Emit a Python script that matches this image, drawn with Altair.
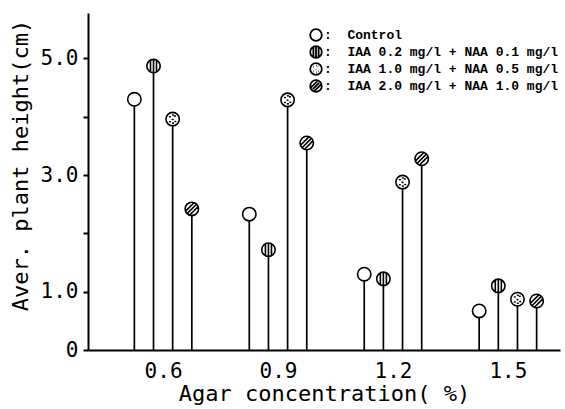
import altair as alt
import pandas as pd

concentrations = [0.6, 0.9, 1.2, 1.5]
series = [
    "Control",
    "IAA 0.2 mg/l + NAA 0.1 mg/l",
    "IAA 1.0 mg/l + NAA 0.5 mg/l",
    "IAA 2.0 mg/l + NAA 1.0 mg/l",
]
control = [4.30, 2.33, 1.30, 0.67]
iaa02 = [4.87, 1.72, 1.22, 1.10]
iaa10 = [3.96, 4.29, 2.88, 0.87]
iaa20 = [2.42, 3.55, 3.28, 0.84]
y_ticks = [0, 1, 2, 3, 4, 5]

values_by_series = [control, iaa02, iaa10, iaa20]
rows = []
for si, (name, vals) in enumerate(zip(series, values_by_series)):
    for c, v in zip(concentrations, vals):
        rows.append({"conc": c, "series": name, "idx": si, "value": v})
df = pd.DataFrame(rows)

circle = "M-1,0A1,1,0,1,0,1,0A1,1,0,1,0,-1,0Z"
shapes = [
    circle,
    circle + "M-0.45,-0.85L-0.45,0.85M0,-1L0,1M0.45,-0.85L0.45,0.85",
    circle + "M-0.45,-0.35L-0.35,-0.35M0.3,-0.45L0.4,-0.45M-0.05,0.05L0.05,0.05"
    "M-0.45,0.4L-0.35,0.4M0.35,0.35L0.45,0.35M0,-0.6L0.1,-0.6M0,0.6L0.1,0.6",
    circle + "M-0.85,0.25L0.25,-0.85M-0.55,0.55L0.55,-0.55M-0.25,0.85L0.85,-0.25",
]

FONT = "DejaVu Sans Mono"

base = alt.Chart(df).transform_calculate(
    xpos="datum.conc + (datum.idx - 1.5) * 0.05"
)

x_enc = alt.X(
    "xpos:Q",
    scale=alt.Scale(domain=[0.404, 1.636], nice=False, zero=False),
    axis=alt.Axis(
        values=concentrations,
        format=".1f",
        ticks=False,
        grid=False,
        title="Agar concentration( %)",
        labelPadding=10,
        titlePadding=2,
    ),
)
y_enc = alt.Y(
    "value:Q",
    scale=alt.Scale(domain=[0, 5.78], nice=False),
    axis=alt.Axis(
        values=y_ticks,
        labelExpr="datum.value == 0 ? '0' : (datum.value % 2 == 1 ? format(datum.value, '.1f') : '')",
        tickSize=5,
        grid=False,
        labelPadding=5,
        title="Aver. plant height(cm)",
        titleX=-61,
        titleY=152,
        titleAlign="center",
        titleBaseline="alphabetic",
    ),
)

stems = base.mark_rule(color="black", strokeWidth=1.7).encode(
    x=x_enc, y=y_enc, y2=alt.datum(0)
)

backs = base.mark_point(
    filled=True, color="white", size=180, opacity=1, shape=circle
).encode(x=x_enc, y=y_enc)

points = base.mark_point(
    filled=False, color="black", strokeWidth=1.6,
    size=180, opacity=1, strokeCap="round"
).encode(
    x=x_enc,
    y=y_enc,
    shape=alt.Shape(
        "series:N",
        scale=alt.Scale(domain=series, range=shapes),
        legend=alt.Legend(
            orient="none",
            legendX=221,
            legendY=15,
            title=None,
            padding=0,
            labelFont="Liberation Mono",
            labelFontWeight="bold",
            labelFontSize=13,
            labelColor="black",
            labelLimit=0,
            labelOffset=1,
            labelExpr="':\u00a0\u00a0' + datum.label",
            symbolSize=135,
            symbolStrokeWidth=1.8,
            symbolStrokeColor="black",
            rowPadding=-10,
        ),
    ),
)

chart = alt.layer(stems, backs, points).properties(
    width=472,
    height=337,
    padding={"left": 88, "top": 13, "right": 5, "bottom": 59},
    autosize=alt.AutoSizeParams(type="none"),
    background="white",
).configure_view(stroke=None).configure_axis(
    domainColor="black",
    domainWidth=2,
    tickColor="black",
    tickWidth=2,
    labelFont=FONT,
    labelFontSize=21,
    labelColor="black",
    titleFont=FONT,
    titleFontSize=22,
    titleFontWeight="normal",
    titleColor="black",
)

chart.save("out.html", embed_options={"renderer": "svg", "actions": False})
